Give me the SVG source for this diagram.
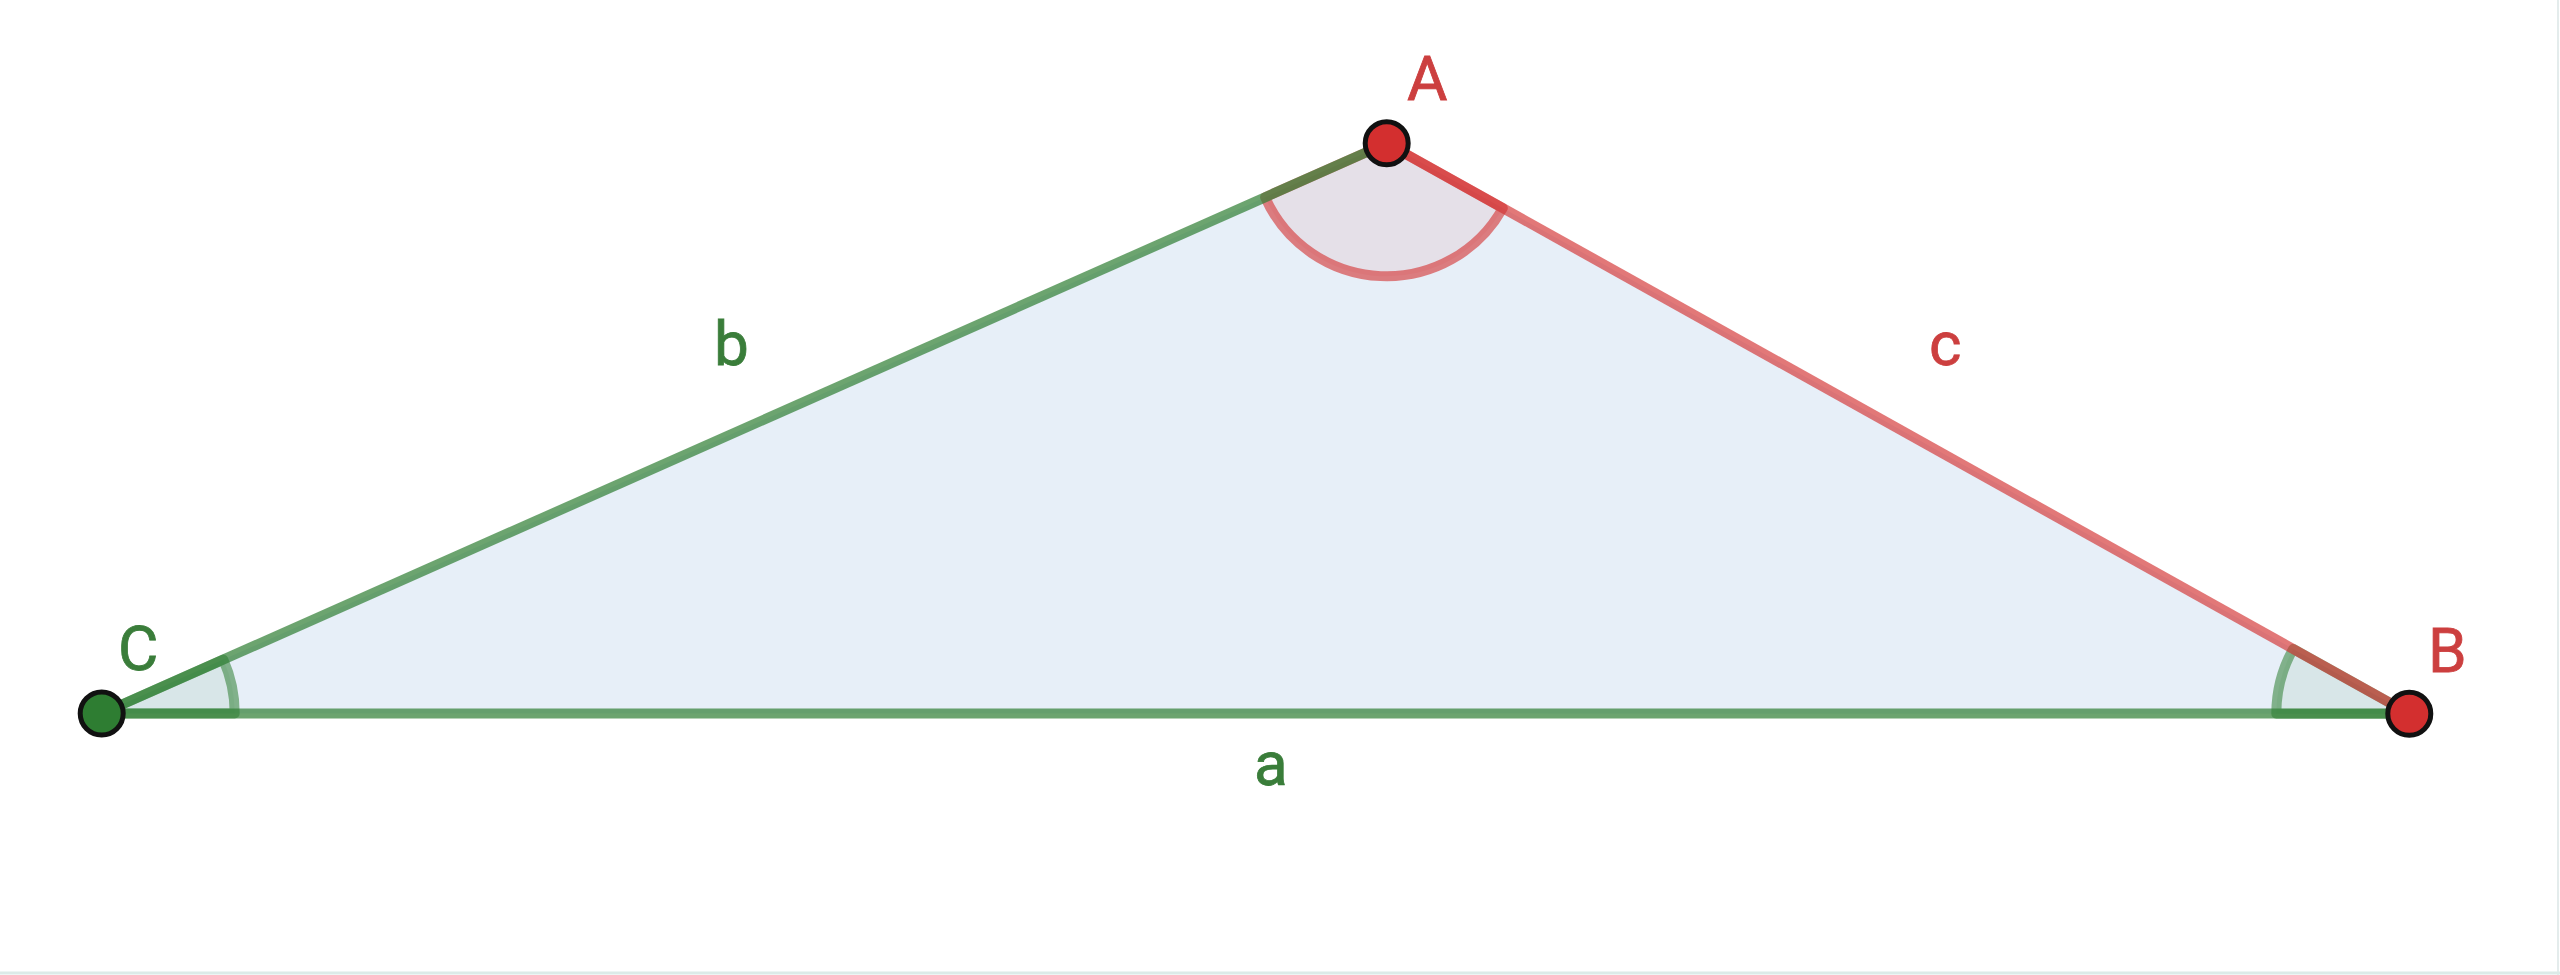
<svg xmlns="http://www.w3.org/2000/svg" width="2560" height="975" viewBox="0 0 2560 975">
<style>
.lbl{font-family:Roboto,"Liberation Sans",sans-serif;font-size:62px;font-weight:400}
.g{fill:#3a7d3a;stroke:#3a7d3a;stroke-width:0.8}
.r{fill:#cc3f3f;stroke:#cc3f3f;stroke-width:0.8}
.seg{stroke-width:10;stroke-linecap:butt;fill:none}
.pt{stroke:#111;stroke-width:5}
</style>
<rect width="2560" height="975" fill="#ffffff"/>
<line x1="2558" y1="0" x2="2558" y2="975" stroke="#e4ecec" stroke-width="2"/>
<line x1="0" y1="973" x2="2560" y2="973" stroke="#dcebe8" stroke-width="3"/>
<g id="triangle">
<polygon points="101.7,713.5 1386.7,143.3 2409.3,713.7" fill="#e7eff8"/>
</g>
<g id="angles">
<path id="angleA" d="M1386.7,143.3 L1265.1,197.2 A133,133 0 0 0 1502.8,208.1 Z" fill="rgba(211,47,47,0.08)" stroke="rgba(211,47,47,0.6)" stroke-width="10" stroke-linejoin="round"/>
<path id="angleC" d="M101.7,713.5 L223.3,659.6 A133,133 0 0 1 234.7,713.5 Z" fill="rgba(46,125,50,0.08)" stroke="rgba(46,125,50,0.55)" stroke-width="10" stroke-linejoin="round"/>
<path id="angleB" d="M2409.3,713.7 L2276.3,713.7 A133,133 0 0 1 2293.2,648.9 Z" fill="rgba(46,125,50,0.08)" stroke="rgba(46,125,50,0.55)" stroke-width="10" stroke-linejoin="round"/>
</g>
<g id="connectors">
<line id="a" class="seg" x1="101.7" y1="713.6" x2="2409.3" y2="713.6" stroke="rgba(46,125,50,0.7)"/>
<line id="b" class="seg" x1="101.7" y1="713.5" x2="1386.7" y2="143.3" stroke="rgba(46,125,50,0.7)"/>
<line id="c" class="seg" x1="1386.7" y1="143.3" x2="2409.3" y2="713.7" stroke="rgba(211,47,47,0.65)"/>
</g>
<g id="labels">
<text class="lbl g" x="714" y="365">b</text>
<text class="lbl r" x="1929" y="365">c</text>
<text class="lbl g" x="1254" y="785">a</text>
</g>
<g id="nodeC">
<circle class="pt" cx="101.7" cy="713.5" r="21.5" fill="#2e7d32"/>
<text class="lbl g" x="118" y="670">C</text>
</g>
<g id="nodeA">
<circle class="pt" cx="1386.7" cy="143.3" r="21.5" fill="#d32f2f"/>
<text class="lbl r" x="1407" y="100">A</text>
</g>
<g id="nodeB">
<circle class="pt" cx="2409.3" cy="713.7" r="21.5" fill="#d32f2f"/>
<text class="lbl r" x="2428" y="672">B</text>
</g>
</svg>
